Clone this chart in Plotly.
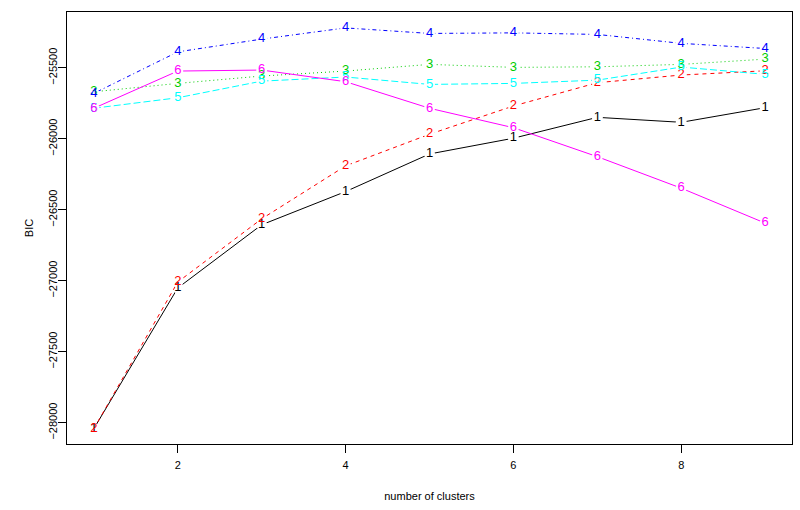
import plotly.graph_objects as go

clusters = [1, 2, 3, 4, 5, 6, 7, 8, 9]

bic_1 = [-28042, -27051, -26606, -26372, -26107, -25996, -25849, -25884, -25781]
bic_2 = [-28042, -27009, -26564, -26191, -25968, -25769, -25605, -25551, -25521]
bic_3 = [-25669, -25610, -25558, -25523, -25476, -25497, -25493, -25476, -25439]
bic_4 = [-25680, -25388, -25298, -25219, -25258, -25254, -25265, -25328, -25364]
bic_5 = [-25785, -25711, -25594, -25565, -25617, -25610, -25587, -25495, -25546]
bic_6 = [-25785, -25523, -25516, -25598, -25785, -25922, -26126, -26348, -26594]

y_ticks = [-28000, -27500, -27000, -26500, -26000, -25500]
x_ticks = [2, 4, 6, 8]

series = [
    ("1", bic_1, "#000000", "solid"),
    ("2", bic_2, "#FF0000", "4px,4px"),
    ("3", bic_3, "#00CD00", "1px,3px"),
    ("4", bic_4, "#0000FF", "1px,3px,4px,3px"),
    ("5", bic_5, "#00FFFF", "7px,3px"),
    ("6", bic_6, "#FF00FF", "solid"),
]

fig = go.Figure()

# lines first, with white markers to leave a gap around each point (like type="b")
for label, values, color, dash in series:
    fig.add_trace(
        go.Scatter(
            x=clusters,
            y=values,
            mode="lines+markers",
            line=dict(color=color, width=1, dash=dash),
            marker=dict(size=11, color="white"),
            showlegend=False,
            hoverinfo="skip",
        )
    )

# then the number labels on top of everything
for label, values, color, dash in series:
    fig.add_trace(
        go.Scatter(
            x=clusters,
            y=values,
            mode="text",
            text=[label] * len(clusters),
            textposition="middle center",
            textfont=dict(color=color, size=13, family="Liberation Sans"),
            showlegend=False,
        )
    )

axis_style = dict(
    showline=True,
    mirror=True,
    linecolor="black",
    linewidth=1,
    ticks="outside",
    ticklen=8,
    tickcolor="black",
    showgrid=False,
    zeroline=False,
    automargin=False,
    tickfont=dict(size=11, color="black"),
)

fig.update_layout(
    width=800,
    height=510,
    margin=dict(l=67, r=8, t=12, b=66),
    plot_bgcolor="white",
    paper_bgcolor="white",
    font=dict(family="Liberation Sans", color="black"),
    xaxis=dict(
        axis_style,
        range=[0.68, 9.32],
        tickvals=x_ticks,
        ticklabelstandoff=3,
        title=dict(text="number of clusters", font=dict(size=11), standoff=22),
    ),
    yaxis=dict(
        axis_style,
        range=[-28150, -25107],
        tickvals=y_ticks,
        ticktext=["\u2212" + str(abs(v)) for v in y_ticks],
        tickangle=-90,
        ticklabelstandoff=-3,
        title=dict(text="BIC", font=dict(size=11), standoff=10),
    ),
)

# the page body has a default 8px margin; drop it so the figure sits at 0,0
fig.write_html(
    "out.html",
    config={"displayModeBar": False},
    post_script="document.body.style.margin = '0';",
)
